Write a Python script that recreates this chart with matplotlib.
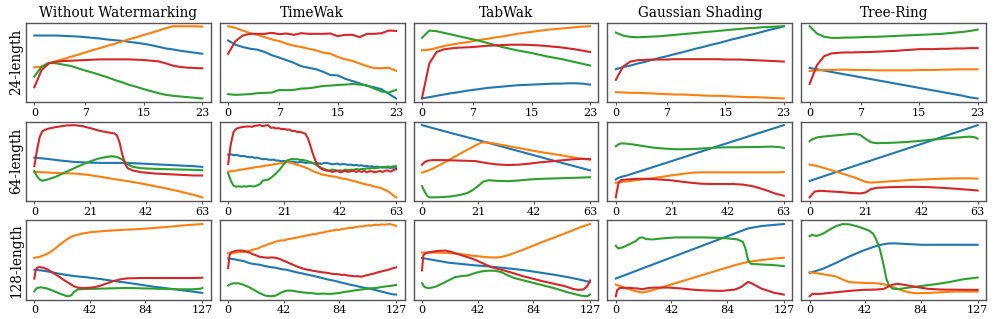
import matplotlib
matplotlib.use("Agg")
import matplotlib.pyplot as plt

plt.rcParams['font.family'] = ['DejaVu Serif']

methods = ['Without Watermarking', 'TimeWak', 'TabWak', 'Gaussian Shading', 'Tree-Ring']
lengths = ['24-length', '64-length', '128-length']
tick_sets = [[0, 7, 15, 23], [0, 21, 42, 63], [0, 42, 84, 127]]
colors = ['#1f77b4', '#ff7f0e', '#2ca02c', '#d62728']  # blue, orange, green, red

# ---- 24-length (one value per step, t = 0..23) ----
wo24 = [
    [199, 199, 199, 199, 198, 197, 196, 194, 192, 190, 187, 185, 183, 180, 177, 174, 170, 165, 160, 157, 153, 150, 147, 144],
    [103, 105, 115, 122, 128, 135, 141, 148, 155, 161, 168, 174, 181, 188, 194, 201, 207, 214, 221, 227, 227, 227, 227, 226],
    [75, 105, 117, 115, 111, 107, 100, 93, 87, 80, 73, 65, 58, 50, 44, 37, 31, 25, 20, 17, 15, 13, 11, 9],
    [43, 95, 115, 120, 122, 123, 124, 125, 126, 127, 127, 127, 127, 127, 126, 125, 123, 121, 115, 108, 104, 102, 101, 100],
]
tw24 = [
    [185, 172, 165, 160, 157, 150, 140, 133, 125, 117, 107, 102, 98, 90, 80, 79, 69, 62, 55, 47, 43, 37, 23, 9],
    [228, 223, 215, 207, 202, 195, 188, 183, 175, 169, 165, 160, 155, 148, 145, 135, 128, 123, 115, 107, 101, 101, 102, 93],
    [22, 20, 21, 22, 25, 26, 27, 35, 34, 35, 39, 40, 43, 47, 48, 50, 51, 53, 51, 49, 39, 30, 27, 35],
    [145, 183, 200, 205, 205, 205, 208, 204, 206, 202, 207, 205, 205, 205, 206, 198, 202, 202, 195, 205, 205, 207, 215, 214],
]
tab24 = [
    [9, 13, 17, 21, 25, 28, 32, 35, 38, 41, 43, 45, 47, 49, 50, 51, 52, 53, 54, 54, 55, 55, 54, 51],
    [155, 157, 162, 168, 172, 176, 179, 183, 187, 190, 194, 197, 201, 205, 208, 211, 214, 217, 219, 221, 223, 225, 227, 228],
    [193, 215, 213, 208, 203, 198, 193, 188, 183, 177, 171, 165, 160, 155, 151, 147, 142, 137, 133, 129, 124, 119, 114, 109],
    [10, 115, 150, 158, 161, 163, 164, 165, 167, 169, 170, 171, 172, 172, 172, 171, 170, 168, 166, 164, 161, 158, 154, 150],
]
gs24 = [
    [97, 103, 108, 114, 119, 125, 131, 136, 142, 147, 153, 159, 164, 170, 175, 181, 187, 192, 198, 203, 209, 215, 220, 226],
    [28, 27, 26, 26, 25, 24, 23, 22, 21, 21, 20, 19, 18, 17, 17, 16, 15, 14, 13, 13, 12, 11, 10, 9],
    [207, 198, 194, 193, 194, 195, 196, 198, 200, 202, 204, 206, 208, 210, 212, 214, 216, 218, 220, 221, 223, 224, 225, 226],
    [65, 105, 120, 124, 125, 126, 126, 126, 127, 127, 127, 127, 127, 127, 127, 126, 126, 126, 125, 124, 123, 122, 121, 120],
]
tr24 = [
    [101, 97, 93, 89, 85, 81, 77, 73, 69, 65, 61, 57, 53, 49, 45, 41, 37, 33, 29, 25, 21, 17, 12, 9],
    [92, 94, 95, 95, 96, 96, 95, 95, 95, 94, 94, 94, 94, 94, 94, 95, 95, 95, 96, 96, 97, 97, 97, 97],
    [227, 205, 195, 192, 192, 193, 193, 194, 195, 195, 196, 197, 198, 199, 200, 201, 202, 203, 204, 206, 208, 210, 213, 217],
    [53, 110, 137, 145, 147, 148, 148, 149, 149, 150, 151, 152, 153, 155, 156, 158, 158, 158, 159, 159, 160, 160, 161, 161],
]

# ---- 64-length ((t, value) readings) ----
wo64 = [
    [(0, 133), (5, 129), (10, 124), (15, 120), (20, 118), (25, 117), (30, 117), (35, 117), (40, 115), (45, 113),
     (50, 111), (55, 109), (60, 107), (63, 105)],
    [(0, 90), (5, 88), (10, 86), (15, 85), (20, 81), (25, 75), (30, 68), (35, 62), (40, 55), (45, 47), (50, 39),
     (55, 30), (60, 20), (63, 13)],
    [(0, 92), (1, 77), (2, 67), (3, 63), (5, 67), (8, 75), (12, 90), (16, 105), (20, 119), (24, 130), (27, 135),
     (29, 137), (31, 135), (33, 127), (35, 113), (37, 105), (40, 101), (45, 99), (50, 98), (55, 97), (60, 96), (63, 95)],
    [(0, 107), (1, 155), (2, 195), (3, 213), (5, 220), (8, 225), (12, 230), (15, 231), (18, 228), (21, 222), (24, 215),
     (27, 210), (30, 206), (31, 200), (32, 178), (33, 142), (34, 115), (35, 101), (37, 94), (40, 89), (45, 85),
     (50, 83), (55, 81), (60, 79), (63, 79)],
]
tw64 = [
    [143, 144, 141, 142, 140, 138, 139, 136, 135, 136, 133, 134, 131, 129, 130, 128, 127, 128, 125, 125, 123, 124,
     122, 121, 122, 121, 119, 121, 120, 118, 119, 119, 117, 118, 117, 115, 118, 118, 116, 114, 115, 116, 113, 115,
     114, 112, 113, 111, 112, 110, 111, 108, 109, 107, 108, 106, 107, 105, 106, 104, 104, 103, 104, 102],
    [92, 93, 94, 95, 97, 98, 99, 101, 102, 103, 105, 106, 107, 108, 110, 111, 112, 114, 115, 116, 118, 119, 120, 119,
     117, 115, 112, 110, 107, 104, 101, 97, 93, 90, 87, 84, 82, 81, 79, 78, 77, 75, 73, 71, 70, 68, 66, 64, 62, 60,
     57, 55, 53, 52, 49, 47, 45, 44, 40, 37, 33, 27, 20, 15],
    [87, 65, 50, 47, 48, 47, 48, 47, 49, 48, 48, 51, 55, 65, 67, 68, 73, 80, 87, 95, 105, 115, 125, 128, 130, 129,
     129, 127, 127, 125, 123, 120, 117, 112, 107, 103, 100, 97, 95, 98, 97, 94, 96, 95, 98, 96, 98, 97, 100, 98,
     100, 99, 102, 101, 103, 102, 103, 105, 104, 106, 107, 106, 108, 108],
    [115, 175, 210, 220, 223, 225, 226, 227, 227, 226, 229, 230, 231, 228, 230, 231, 223, 224, 221, 222, 219, 220,
     217, 218, 213, 214, 210, 211, 208, 205, 190, 165, 140, 120, 107, 100, 97, 95, 94, 91, 93, 95, 90, 92, 94, 91,
     93, 95, 91, 94, 91, 94, 90, 93, 93, 90, 92, 94, 91, 95, 95, 92, 97, 99],
]
tab64 = [
    [(0, 232), (10, 210), (20, 189), (30, 167), (40, 145), (50, 123), (63, 95)],
    [(0, 88), (2, 93), (4, 100), (8, 117), (12, 135), (16, 153), (20, 170), (22, 178), (23, 180), (25, 179), (28, 175),
     (32, 169), (36, 163), (40, 157), (44, 151), (48, 146), (52, 141), (56, 135), (60, 130), (63, 127)],
    [(0, 47), (1, 30), (2, 17), (3, 13), (5, 13), (8, 14), (11, 16), (14, 20), (17, 26), (19, 35), (21, 47), (23, 61),
     (25, 65), (28, 63), (32, 62), (36, 64), (40, 67), (44, 69), (48, 70), (52, 71), (56, 72), (60, 73), (63, 74)],
    [(0, 112), (1, 120), (2, 124), (4, 126), (8, 126), (12, 125), (16, 124), (20, 123), (22, 120), (25, 116),
     (28, 113), (32, 111), (36, 112), (40, 115), (44, 119), (48, 122), (52, 125), (56, 128), (60, 130), (63, 129)],
]
gs64 = [
    [(0, 65), (1, 70), (2, 73), (4, 77), (20, 119), (40, 172), (63, 232)],
    [(0, 55), (2, 57), (6, 61), (10, 65), (14, 69), (18, 74), (22, 79), (26, 83), (29, 86), (32, 87), (40, 87),
     (50, 87), (60, 87), (63, 88)],
    [(0, 167), (1, 173), (2, 176), (4, 175), (7, 172), (10, 168), (14, 163), (18, 160), (22, 158), (26, 158),
     (30, 159), (34, 161), (38, 163), (42, 164), (46, 164), (50, 165), (54, 165), (58, 166), (61, 165), (63, 162)],
    [(0, 10), (1, 55), (2, 63), (4, 65), (8, 67), (12, 67), (16, 65), (20, 63), (24, 59), (28, 55), (32, 52),
     (36, 51), (40, 51), (44, 51), (48, 49), (52, 43), (56, 33), (60, 21), (63, 15)],
]
tr64 = [
    [(0, 62), (21, 119), (42, 175), (63, 232)],
    [(0, 112), (3, 107), (6, 100), (10, 90), (14, 80), (18, 69), (21, 59), (23, 57), (27, 59), (32, 62), (38, 65),
     (44, 67), (50, 69), (56, 70), (60, 70), (63, 69)],
    [(0, 183), (1, 189), (3, 195), (6, 198), (10, 201), (14, 204), (17, 206), (19, 202), (21, 190), (23, 180),
     (25, 177), (30, 178), (35, 180), (40, 183), (45, 187), (50, 191), (55, 194), (60, 197), (62, 195), (63, 191)],
    [(0, 12), (1, 22), (2, 30), (4, 32), (8, 30), (12, 28), (16, 25), (19, 24), (21, 27), (23, 37), (25, 41),
     (30, 43), (35, 44), (40, 44), (45, 43), (50, 41), (55, 38), (60, 35), (63, 33)],
]

# ---- 128-length ((t, value) readings) ----
wo128 = [
    [(0, 92), (5, 90), (10, 87), (15, 83), (20, 79), (25, 76), (30, 73), (40, 69), (50, 64), (60, 58), (70, 53),
     (80, 47), (90, 41), (100, 36), (110, 31), (120, 26), (127, 22)],
    [(0, 128), (4, 131), (8, 137), (12, 145), (16, 157), (20, 170), (24, 182), (28, 192), (32, 197), (36, 201),
     (42, 205), (50, 208), (60, 211), (70, 213), (80, 215), (90, 218), (100, 221), (110, 225), (120, 228), (127, 230)],
    [(0, 27), (2, 37), (5, 39), (10, 35), (15, 27), (20, 19), (24, 13), (26, 12), (28, 15), (30, 25), (33, 33),
     (40, 34), (50, 35), (60, 36), (70, 37), (80, 36), (90, 35), (100, 34), (110, 33), (120, 33), (126, 35), (127, 37)],
    [(0, 65), (1, 90), (2, 98), (4, 100), (7, 98), (10, 93), (14, 83), (18, 73), (22, 62), (26, 52), (30, 42),
     (33, 38), (36, 37), (40, 37), (45, 39), (50, 44), (55, 51), (60, 58), (65, 63), (70, 66), (80, 67), (90, 67),
     (100, 67), (110, 67), (120, 67), (127, 68)],
]
tw128 = [
    [(0, 127), (4, 125), (8, 122), (12, 119), (16, 113), (20, 110), (24, 108), (28, 104), (32, 101), (36, 99),
     (40, 95), (44, 93), (48, 89), (52, 85), (56, 82), (60, 78), (64, 75), (68, 71), (72, 67), (76, 63), (80, 60),
     (84, 56), (88, 52), (92, 48), (96, 45), (100, 41), (104, 38), (108, 35), (112, 31), (116, 27), (120, 23),
     (124, 19), (127, 18)],
    [(0, 143), (2, 143), (4, 144), (6, 145), (8, 146), (10, 147), (12, 146), (14, 149), (16, 150), (18, 153),
     (20, 155), (22, 157), (24, 160), (26, 164), (28, 166), (30, 170), (32, 172), (34, 175), (36, 178), (38, 180),
     (40, 182), (42, 181), (44, 184), (46, 186), (48, 187), (50, 189), (52, 190), (54, 192), (56, 194), (58, 195),
     (60, 197), (62, 198), (64, 201), (66, 200), (68, 203), (70, 205), (72, 205), (74, 208), (76, 209), (78, 211),
     (80, 212), (82, 214), (84, 213), (86, 216), (88, 217), (90, 218), (92, 220), (94, 219), (96, 222), (98, 223),
     (100, 224), (102, 224), (104, 226), (106, 227), (108, 226), (110, 228), (112, 229), (114, 228), (116, 230),
     (118, 229), (120, 230), (122, 231), (124, 229), (126, 227), (127, 225)],
    [(0, 45), (2, 50), (4, 52), (8, 52), (12, 47), (16, 40), (20, 31), (24, 22), (28, 15), (32, 13), (36, 15),
     (40, 24), (44, 30), (48, 30), (52, 27), (56, 25), (60, 23), (64, 22), (68, 20), (72, 21), (76, 20), (80, 21),
     (84, 23), (88, 26), (92, 28), (96, 31), (100, 33), (104, 35), (108, 37), (112, 38), (116, 41), (120, 43),
     (124, 45), (127, 47)],
    [(0, 98), (1, 135), (2, 145), (4, 148), (6, 150), (8, 151), (10, 151), (12, 150), (14, 147), (16, 145),
     (18, 141), (20, 138), (22, 135), (24, 132), (26, 131), (28, 130), (30, 129), (32, 130), (34, 130), (36, 129),
     (38, 127), (40, 124), (42, 120), (44, 117), (46, 113), (48, 110), (50, 106), (52, 103), (54, 100), (56, 97),
     (58, 95), (60, 93), (62, 92), (64, 90), (66, 89), (68, 87), (70, 86), (72, 85), (74, 84), (76, 83), (78, 81),
     (80, 80), (82, 80), (84, 79), (86, 77), (88, 78), (90, 76), (92, 75), (94, 74), (96, 73), (98, 74), (100, 72),
     (102, 73), (104, 76), (106, 77), (108, 80), (110, 81), (112, 84), (114, 86), (116, 88), (118, 90), (120, 92),
     (122, 94), (124, 97), (126, 99), (127, 100)],
]
tab128 = [
    [(0, 127), (10, 120), (20, 113), (30, 109), (40, 105), (50, 102), (60, 98), (70, 94), (80, 89), (90, 83),
     (100, 77), (110, 70), (120, 62), (127, 55)],
    [(0, 143), (10, 143), (20, 142), (30, 138), (40, 133), (50, 129), (56, 128), (60, 130), (65, 135), (70, 142),
     (80, 157), (90, 173), (100, 188), (110, 203), (120, 219), (127, 228)],
    [(0, 52), (2, 40), (5, 37), (10, 41), (15, 50), (20, 60), (25, 70), (30, 73), (35, 75), (40, 82), (45, 87),
     (50, 89), (55, 89), (60, 85), (65, 75), (70, 67), (80, 57), (90, 47), (100, 37), (110, 25), (120, 15),
     (125, 13), (127, 18)],
    [(0, 90), (1, 135), (3, 142), (7, 145), (12, 148), (18, 149), (22, 145), (30, 135), (38, 125), (45, 113),
     (52, 100), (60, 92), (68, 83), (76, 73), (84, 65), (92, 57), (100, 50), (108, 43), (114, 35), (118, 32),
     (122, 33), (125, 43), (127, 60)],
]
gs128 = [
    [(0, 65), (50, 140), (100, 215), (110, 222), (127, 228)],
    [(0, 47), (5, 40), (10, 33), (15, 27), (20, 23), (25, 27), (30, 33), (40, 45), (50, 57), (60, 69), (70, 81),
     (80, 93), (90, 105), (100, 115), (110, 120), (120, 125), (127, 127)],
    [(0, 163), (2, 155), (5, 158), (10, 167), (15, 177), (18, 187), (20, 188), (23, 183), (28, 182), (35, 185),
     (45, 188), (55, 188), (65, 188), (75, 187), (85, 185), (92, 182), (96, 175), (98, 155), (100, 120), (102, 109),
     (110, 107), (120, 105), (127, 102)],
    [(0, 12), (1, 30), (3, 37), (10, 37), (17, 35), (20, 33), (25, 37), (30, 38), (40, 38), (50, 35), (60, 31),
     (70, 29), (80, 28), (90, 32), (95, 40), (100, 55), (103, 50), (110, 35), (120, 22), (127, 17)],
]
tr128 = [
    [(0, 83), (10, 95), (20, 113), (30, 132), (40, 149), (50, 163), (55, 168), (60, 171), (65, 171), (75, 169),
     (85, 167), (100, 167), (127, 167)],
    [(0, 85), (10, 79), (20, 72), (25, 63), (30, 55), (40, 53), (50, 52), (56, 49), (60, 45), (65, 37), (70, 30),
     (75, 25), (80, 22), (90, 23), (100, 25), (110, 27), (127, 27)],
    [(0, 193), (2, 197), (5, 193), (10, 200), (15, 212), (20, 223), (25, 229), (30, 228), (35, 223), (40, 217),
     (45, 209), (48, 200), (50, 185), (53, 155), (56, 105), (58, 65), (60, 45), (63, 35), (68, 35), (75, 39),
     (85, 44), (95, 49), (105, 55), (115, 63), (127, 69)],
    [(0, 13), (2, 20), (8, 20), (15, 23), (20, 25), (30, 29), (40, 32), (50, 33), (56, 35), (60, 43), (63, 48),
     (66, 50), (72, 47), (80, 41), (90, 35), (100, 33), (127, 32)],
]

grid = [
    [wo24, tw24, tab24, gs24, tr24],
    [wo64, tw64, tab64, gs64, tr64],
    [wo128, tw128, tab128, gs128, tr128],
]


def unpack(s):
    if isinstance(s[0], tuple):
        return [p[0] for p in s], [p[1] for p in s]
    return list(range(len(s))), s


fig, axes = plt.subplots(3, 5, figsize=(9.97, 3.19), dpi=100)
fig.subplots_adjust(left=0.026, right=0.989, top=0.929, bottom=0.06, wspace=0.049, hspace=0.245)

for r in range(3):
    for c in range(5):
        ax = axes[r, c]
        for s, col in zip(grid[r][c], colors):
            t, v = unpack(s)
            ax.plot(t, v, color=col, lw=1.5)
        ax.set_xticks(tick_sets[r])
        ax.set_yticks([])
        ax.tick_params(axis='x', labelsize=8, length=2.5, width=0.8, color='#555555', pad=1.5)
        for sp in ax.spines.values():
            sp.set_color('#555555')
            sp.set_linewidth(1.0)
        if r == 0:
            ax.set_title(methods[c], fontsize=9.8, pad=4)
        if c == 0:
            ax.set_ylabel(lengths[r], fontsize=9.8, labelpad=2)

fig.savefig('out.png', dpi=100)
